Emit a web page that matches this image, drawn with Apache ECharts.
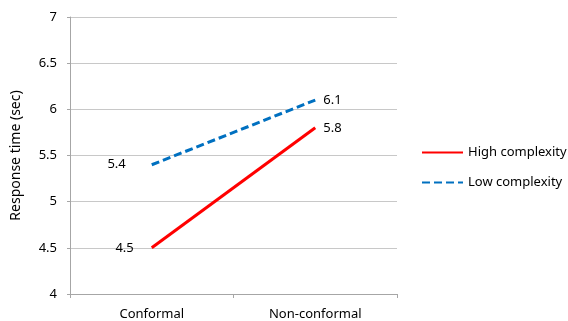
<!DOCTYPE html>
<html>
<head>
<meta charset="utf-8">
<script src="https://cdn.jsdelivr.net/npm/echarts@6/dist/echarts.min.js"></script>
<style>
  html, body { margin: 0; padding: 0; background: #fff; }
  #chart { width: 568px; height: 321px; }
</style>
</head>
<body>
<div id="chart"></div>
<script>
// Categories and mean response times (seconds)
const categories = ['Conformal', 'Non-conformal'];
const highComplexity = [4.5, 5.8];
const lowComplexity = [5.4, 6.1];
const seriesNames = ['High complexity', 'Low complexity'];

const FONT = '"Noto Sans", sans-serif';
const FS = 13;
const chart = echarts.init(document.getElementById('chart'), null, { renderer: 'canvas' });

// first point labelled on the left, second on the right
function labelled(values, leftGap) {
  return values.map((v, i) => ({
    value: v,
    label: { position: i === 0 ? 'left' : 'right', distance: i === 0 ? leftGap : 8 }
  }));
}

chart.setOption({
  animation: false,
  textStyle: { fontFamily: FONT },
  grid: { left: 70, right: 171, top: 17, bottom: 26, containLabel: false },
  legend: {
    orient: 'vertical',
    left: 421,
    top: 146,
    padding: 0,
    itemWidth: 41,
    itemHeight: 12,
    itemGap: 17,
    textStyle: { fontFamily: FONT, fontSize: FS, color: '#000' },
    data: seriesNames.map(n => ({ name: n, itemStyle: { opacity: 0 } }))
  },
  xAxis: {
    type: 'category',
    data: categories,
    boundaryGap: true,
    axisLine: { lineStyle: { color: '#a6a6a6', width: 1 } },
    axisTick: { show: true, length: 4, lineStyle: { color: '#a6a6a6' } },
    axisLabel: { color: '#000', fontSize: FS, fontFamily: FONT, margin: 14 }
  },
  yAxis: {
    type: 'value',
    min: 4,
    max: 7,
    interval: 0.5,
    name: 'Response time (sec)',
    nameLocation: 'middle',
    nameGap: 47,
    nameRotate: 90,
    nameTextStyle: { color: '#000', fontSize: 14, fontFamily: FONT },
    axisLine: { show: true, lineStyle: { color: '#a6a6a6', width: 1 } },
    axisTick: { show: true, length: 3, lineStyle: { color: '#a6a6a6' } },
    axisLabel: { color: '#000', fontSize: FS, fontFamily: FONT, margin: 13 },
    splitLine: { lineStyle: { color: '#c8c8c8', width: 1 } }
  },
  series: [
    {
      name: seriesNames[0],
      type: 'line',
      data: labelled(highComplexity, 18),
      symbol: 'circle',
      symbolSize: 0.01,
      showSymbol: true,
      lineStyle: { color: '#ff0000', width: 3 },
      itemStyle: { color: '#ff0000' },
      label: { show: true, color: '#000', fontSize: FS, fontFamily: FONT }
    },
    {
      name: seriesNames[1],
      type: 'line',
      data: labelled(lowComplexity, 26),
      symbol: 'circle',
      symbolSize: 0.01,
      showSymbol: true,
      lineStyle: { color: '#0070c0', width: 3, type: [8, 4] },
      itemStyle: { color: '#0070c0' },
      label: { show: true, color: '#000', fontSize: FS, fontFamily: FONT }
    }
  ]
});
</script>
</body>
</html>
